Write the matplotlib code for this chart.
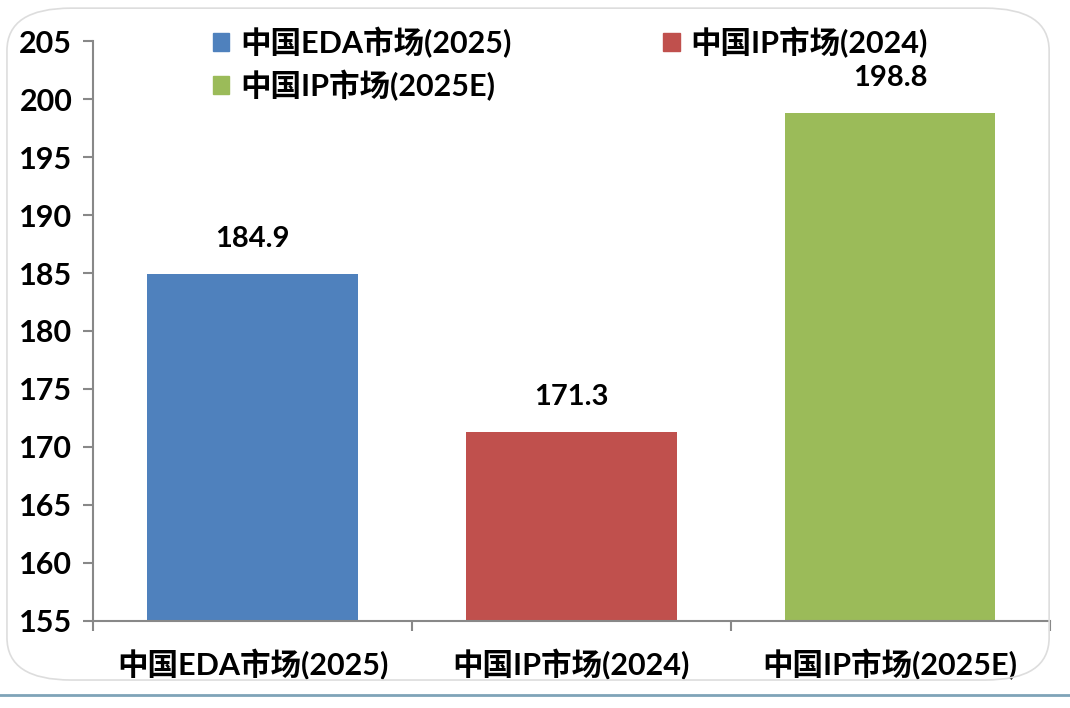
import matplotlib.pyplot as plt
from matplotlib.patches import FancyBboxPatch, Patch
from matplotlib.lines import Line2D

plt.rcParams['font.family'] = ['Lato', 'Noto Sans CJK SC']
plt.rcParams['font.weight'] = 'bold'

categories = ['中国EDA市场(2025)', '中国IP市场(2024)', '中国IP市场(2025E)']
values = [184.9, 171.3, 198.8]
colors = ['#4f81bd', '#c0504d', '#9bbb59']
yticks = [155, 160, 165, 170, 175, 180, 185, 190, 195, 200, 205]

fig = plt.figure(figsize=(10.7, 7.08), dpi=100)
# rounded frame and bottom rule
fig.patches.append(FancyBboxPatch((0.0065, 0.0395), 0.974, 0.949, boxstyle='round,pad=0,rounding_size=0.06',
                                  transform=fig.transFigure, fc='none', ec='#dddddd', lw=1.2))
fig.lines.append(Line2D([0, 1], [0.019, 0.019], transform=fig.transFigure, color='#7fa3b8', lw=2))

ax = fig.add_axes([0.087, 0.123, 0.894, 0.819])
x = range(len(categories))
bars = ax.bar(x, values, width=0.66, color=colors, bottom=0)
ax.set_ylim(155, 205)
ax.set_xlim(-0.5, 2.5)
ax.set_yticks(yticks)
ax.tick_params(axis='y', labelsize=22, length=7, width=1.5, color='#888888', pad=8)
ax.set_xticks([-0.5, 0.5, 1.5, 2.5])
ax.set_xticklabels([])
ax.set_xticks(list(x), minor=True)
ax.set_xticklabels(categories, minor=True, fontsize=22)
ax.tick_params(axis='x', which='major', length=7, width=1.5, color='#888888')
ax.tick_params(axis='x', which='minor', length=0, pad=20)
for s in ['top', 'right']:
    ax.spines[s].set_visible(False)
for s in ['left', 'bottom']:
    ax.spines[s].set_color('#888888')
    ax.spines[s].set_linewidth(1.5)

for xi, v in zip(x, values):
    ax.annotate(f'{v}', (xi, v), xytext=(0, 16), textcoords='offset points',
                ha='center', va='bottom', fontsize=21)

handles = [Patch(color=colors[0]), Patch(color=colors[2]), Patch(color=colors[1])]
labels = [categories[0], categories[2], categories[1]]
ax.legend(handles, labels, ncol=2, loc='upper left', bbox_to_anchor=(0.125, 1.025), frameon=False,
          fontsize=22, handlelength=0.55, handleheight=0.55, handletextpad=0.35,
          columnspacing=4.95, labelspacing=0.38, borderpad=0, borderaxespad=0)

fig.savefig('out.png', dpi=100)
